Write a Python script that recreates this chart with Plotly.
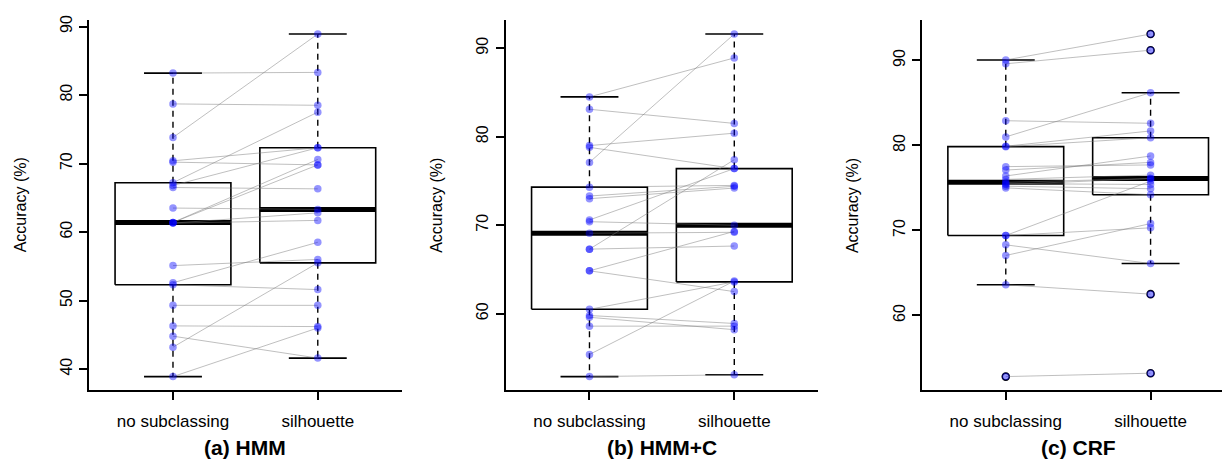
import math
import plotly.graph_objects as go

# ---------------- data ----------------
groups = ["no subclassing", "silhouette"]
panel_titles = ["(a) HMM", "(b) HMM+C", "(c) CRF"]
y_title = "Accuracy (%)"

# paired accuracies (same index = same pair)
hmm_none = [83.2, 78.7, 73.8, 70.4, 70.2, 67.2, 66.8, 66.5, 63.5, 61.4, 61.4, 61.3, 61.3,
            55.1, 52.6, 52.3, 49.3, 46.3, 44.8, 43.2, 38.9]
hmm_sil = [83.3, 78.5, 88.9, 72.3, 69.8, 77.5, 72.3, 66.3, 63.3, 70.6, 69.8, 62.8, 61.7,
           56.0, 58.5, 51.6, 49.3, 46.2, 41.6, 55.5, 46.0]

hmmc_none = [84.5, 83.1, 79.0, 78.8, 77.1, 74.3, 73.3, 73.0, 70.6, 70.4, 69.1, 67.3, 67.3,
             64.85, 64.85, 60.5, 59.8, 59.6, 58.6, 55.4, 52.9]
hmmc_sil = [88.9, 81.5, 80.4, 76.4, 91.6, 74.5, 74.4, 74.2, 76.4, 70.0, 69.2, 77.4, 67.65,
            69.3, 62.5, 63.6, 58.9, 58.2, 58.6, 63.7, 53.1]

crf_none = [90.05, 89.6, 82.9, 81.0, 79.9, 79.85, 77.5, 77.1, 76.4, 76.0, 75.65, 75.5, 75.4,
            75.2, 75.0, 69.4, 69.4, 68.3, 67.05, 63.6, 52.8]
crf_sil = [93.1, 91.2, 82.6, 86.2, 81.7, 80.9, 77.7, 78.0, 78.75, 76.5, 76.1, 75.4, 76.1,
           74.9, 74.2, 75.8, 70.3, 66.1, 70.8, 62.5, 53.2]

y_ticks = [[40, 50, 60, 70, 80, 90], [60, 70, 80, 90], [60, 70, 80, 90]]

panels = [(hmm_none, hmm_sil), (hmmc_none, hmmc_sil), (crf_none, crf_sil)]

# ---------------- layout geometry (pixels) ----------------
W, H = 1222, 463
panel_left_px = [89, 505.5, 921.8]
unit_px = 144.8
plot_top_px, plot_bot_px = 15.5, 389.5
FONT = "Liberation Sans, Arial, Helvetica, sans-serif"


def fivenum(v):
    s = sorted(v)
    n = len(s)
    n4 = math.floor((n + 3) / 2) / 2
    d = [1, n4, (n + 1) / 2, n + 1 - n4, n]
    return [0.5 * (s[math.floor(k) - 1] + s[math.ceil(k) - 1]) for k in d]


def box_stats(v):
    _, h1, med, h3, _ = fivenum(v)
    iqr = h3 - h1
    lo_f, hi_f = h1 - 1.5 * iqr, h3 + 1.5 * iqr
    inside = [x for x in v if lo_f <= x <= hi_f]
    out = [x for x in v if x < lo_f or x > hi_f]
    return h1, med, h3, min(inside), max(inside), out


fig = go.Figure()
annotations = []
ydom = [1 - plot_bot_px / H, 1 - plot_top_px / H]

for i, (a, b) in enumerate(panels):
    xa = "x" if i == 0 else f"x{i+1}"
    ya = "y" if i == 0 else f"y{i+1}"
    left = panel_left_px[i]
    right = min(left + 2.16 * unit_px, W)
    x0 = 0.42
    x1 = x0 + (right - left) / unit_px

    allv = a + b
    lo, hi = min(allv), max(allv)
    ext = 0.04 * (hi - lo)
    yr = [lo - ext, hi + ext]

    # boxes
    for p, vals in zip([1, 2], [a, b]):
        h1, med, h3, wl, wu, out = box_stats(vals)
        fig.add_trace(go.Scatter(x=[p - 0.4, p + 0.4, p + 0.4, p - 0.4, p - 0.4],
                                 y=[h1, h1, h3, h3, h1], mode="lines",
                                 line=dict(color="black", width=1.6),
                                 xaxis=xa, yaxis=ya, showlegend=False, hoverinfo="skip"))
        fig.add_trace(go.Scatter(x=[p, p, None, p, p], y=[h3, wu, None, h1, wl], mode="lines",
                                 line=dict(color="black", width=1.4, dash="6px,5px"),
                                 xaxis=xa, yaxis=ya, showlegend=False, hoverinfo="skip"))
        fig.add_trace(go.Scatter(x=[p - 0.2, p + 0.2, None, p - 0.2, p + 0.2],
                                 y=[wu, wu, None, wl, wl], mode="lines",
                                 line=dict(color="black", width=1.6),
                                 xaxis=xa, yaxis=ya, showlegend=False, hoverinfo="skip"))
        fig.add_trace(go.Scatter(x=[p - 0.4, p + 0.4], y=[med, med], mode="lines",
                                 line=dict(color="black", width=5),
                                 xaxis=xa, yaxis=ya, showlegend=False, hoverinfo="skip"))
        if out:
            fig.add_trace(go.Scatter(x=[p] * len(out), y=out, mode="markers",
                                     marker=dict(symbol="circle-open", size=7, color="black",
                                                 line=dict(width=1.6, color="black")),
                                     xaxis=xa, yaxis=ya, showlegend=False, hoverinfo="skip"))

    # paired segments
    sx, sy = [], []
    for va, vb in zip(a, b):
        sx += [1, 2, None]
        sy += [va, vb, None]
    fig.add_trace(go.Scatter(x=sx, y=sy, mode="lines",
                             line=dict(color="rgba(120,120,120,0.6)", width=0.8),
                             xaxis=xa, yaxis=ya, showlegend=False, hoverinfo="skip"))

    # points
    fig.add_trace(go.Scatter(x=[1] * len(a) + [2] * len(b), y=a + b, mode="markers",
                             marker=dict(size=7.5, color="rgba(0,0,255,0.42)", line=dict(width=0)),
                             xaxis=xa, yaxis=ya, showlegend=False, hoverinfo="skip"))

    axis_common = dict(showgrid=False, zeroline=False, showline=True, linecolor="black",
                       linewidth=1.5, ticks="outside", ticklen=8, tickwidth=1.5,
                       tickcolor="black")
    fig.update_layout(**{
        ("xaxis" if i == 0 else f"xaxis{i+1}"): dict(
            domain=[left / W, right / W], range=[x0, x1], anchor=ya,
            tickmode="array", tickvals=[1, 2], ticktext=groups,
            ticklabelstandoff=7, tickfont=dict(family=FONT, size=17, color="black"),
            **axis_common),
        ("yaxis" if i == 0 else f"yaxis{i+1}"): dict(
            domain=ydom, range=yr, anchor=xa,
            tickmode="array", tickvals=y_ticks[i], tickangle=-90,
            ticklabelstandoff=1, tickfont=dict(family=FONT, size=16, color="black"),
            **axis_common),
    })

    cx = (left + (left + 2.16 * unit_px)) / 2
    annotations.append(dict(text=f"<b>{panel_titles[i]}</b>", xref="paper", yref="paper",
                            x=cx / W, y=1 - 447 / H, xanchor="center", yanchor="middle",
                            showarrow=False, font=dict(family=FONT, size=21, color="black")))
    annotations.append(dict(text=y_title, xref="paper", yref="paper",
                            x=(left - 69) / W, y=1 - ((plot_top_px + plot_bot_px) / 2) / H,
                            xanchor="center", yanchor="middle", textangle=-90,
                            showarrow=False, font=dict(family=FONT, size=16, color="black")))

fig.update_layout(width=W, height=H, margin=dict(l=0, r=0, t=0, b=0),
                  paper_bgcolor="white", plot_bgcolor="white",
                  annotations=annotations, showlegend=False)

fig.write_html("out.html")
